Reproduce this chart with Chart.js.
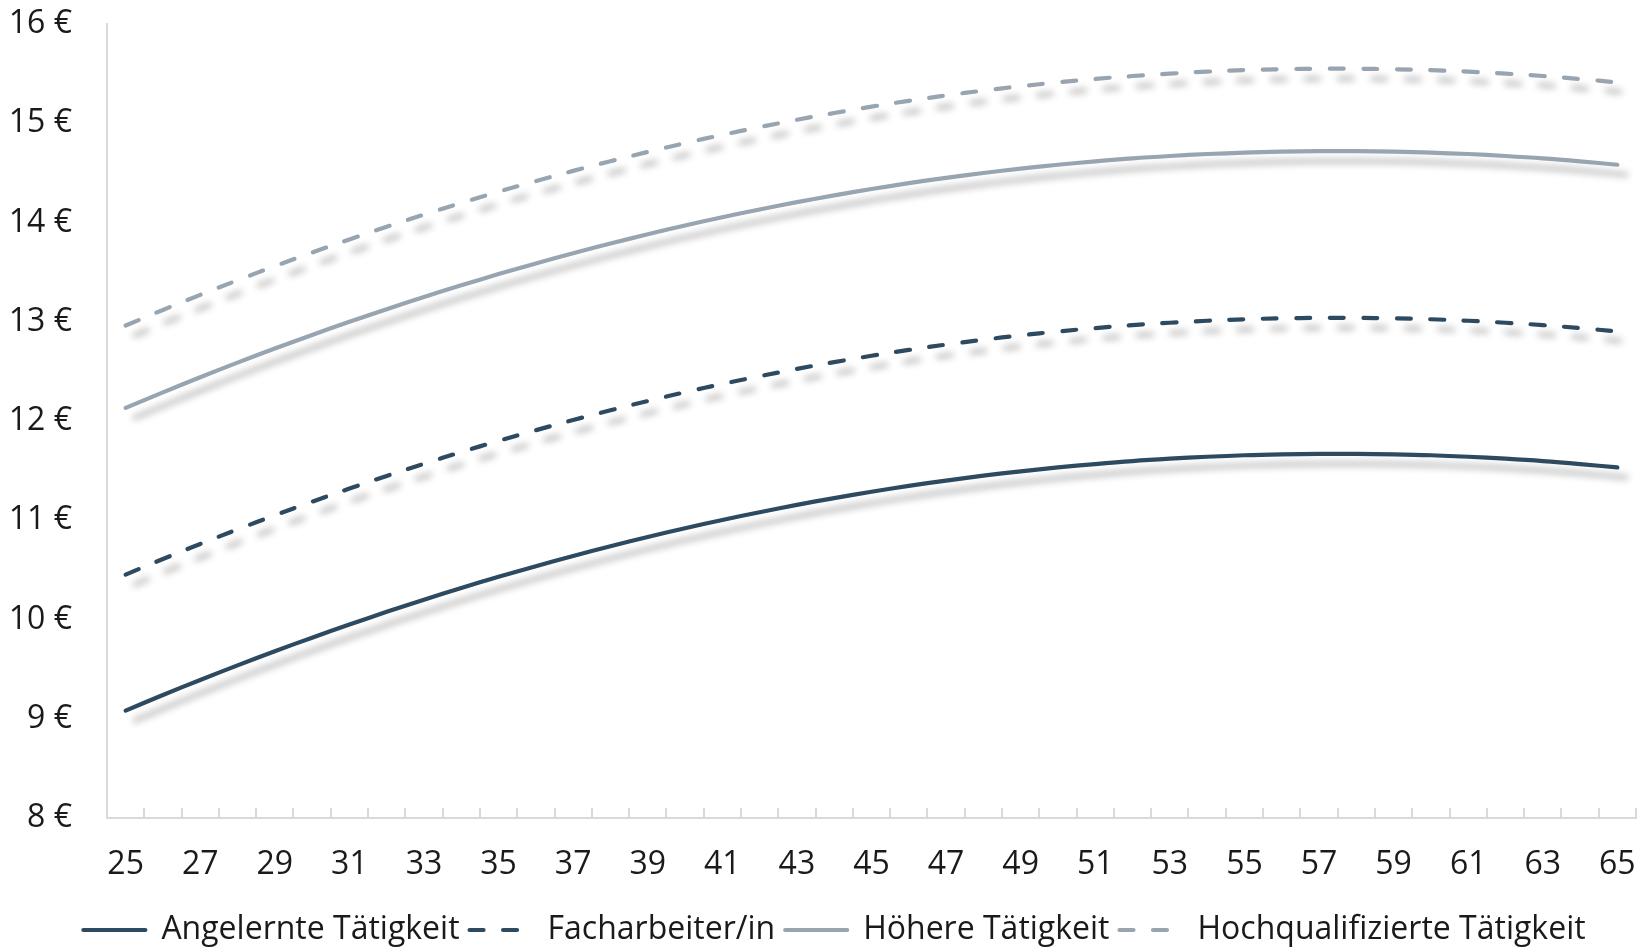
<!DOCTYPE html>
<html>
<head>
<meta charset="utf-8">
<script src="https://cdn.jsdelivr.net/npm/chart.js@4/dist/chart.umd.min.js"></script>
<style>
  html, body { margin: 0; padding: 0; background: #ffffff; overflow: hidden; }
  #wrap { width: 1651px; height: 951px; position: relative; }
</style>
</head>
<body>
<div id="wrap"><canvas id="c" width="1651" height="951"></canvas></div>
<script>
const ages = [25,26,27,28,29,30,31,32,33,34,35,36,37,38,39,40,41,42,43,44,45,46,47,48,49,50,51,52,53,54,55,56,57,58,59,60,61,62,63,64,65];

const angelernte = [9.082, 9.239, 9.391, 9.538, 9.680, 9.817, 9.949, 10.077, 10.199, 10.317, 10.430, 10.537, 10.640, 10.738, 10.831, 10.920, 11.003, 11.081, 11.155, 11.223, 11.287, 11.346, 11.400, 11.449, 11.493, 11.532, 11.566, 11.596, 11.620, 11.640, 11.655, 11.664, 11.669, 11.669, 11.664, 11.655, 11.640, 11.620, 11.596, 11.566, 11.532];

const facharbeiter = [10.452, 10.609, 10.761, 10.908, 11.050, 11.187, 11.319, 11.447, 11.569, 11.687, 11.800, 11.907, 12.010, 12.108, 12.201, 12.290, 12.373, 12.451, 12.525, 12.593, 12.657, 12.716, 12.770, 12.819, 12.863, 12.902, 12.936, 12.966, 12.990, 13.010, 13.025, 13.034, 13.039, 13.039, 13.034, 13.025, 13.010, 12.990, 12.966, 12.936, 12.902];

const hoehere = [12.132, 12.289, 12.441, 12.588, 12.730, 12.867, 12.999, 13.127, 13.249, 13.367, 13.480, 13.587, 13.690, 13.788, 13.881, 13.970, 14.053, 14.131, 14.205, 14.273, 14.337, 14.396, 14.450, 14.499, 14.543, 14.582, 14.616, 14.646, 14.670, 14.690, 14.705, 14.714, 14.719, 14.719, 14.714, 14.705, 14.690, 14.670, 14.646, 14.616, 14.582];

const hochqualifiziert = [12.962, 13.119, 13.271, 13.418, 13.560, 13.697, 13.829, 13.957, 14.079, 14.197, 14.310, 14.417, 14.520, 14.618, 14.711, 14.800, 14.883, 14.961, 15.035, 15.103, 15.167, 15.226, 15.280, 15.329, 15.373, 15.412, 15.446, 15.476, 15.500, 15.520, 15.535, 15.544, 15.549, 15.549, 15.544, 15.535, 15.520, 15.500, 15.476, 15.446, 15.412];

const seriesNames = ['Angelernte Tätigkeit', 'Facharbeiter/in', 'Höhere Tätigkeit', 'Hochqualifizierte Tätigkeit'];
const yMin = 8, yMax = 16, yStep = 1;

const DARK = '#2e4a60';
const LIGHT = '#98a5b0';
const DASH = [14, 19.5];
const FONT = '"Open Sans", sans-serif';

const shadowPlugin = {
  id: 'lineShadow',
  beforeDatasetDraw(chart) {
    const ctx = chart.ctx;
    ctx.save();
    ctx.shadowColor = 'rgba(0,0,0,0.30)';
    ctx.shadowBlur = 7;
    ctx.shadowOffsetX = 9;
    ctx.shadowOffsetY = 10;
  },
  afterDatasetDraw(chart) {
    chart.ctx.restore();
  }
};

function ds(label, data, color, dash) {
  return {
    label, data,
    borderColor: color,
    backgroundColor: color,
    borderWidth: 4.2,
    borderDash: dash,
    borderCapStyle: 'round',
    borderJoinStyle: 'round',
    pointRadius: 0,
    pointHoverRadius: 0,
    pointStyle: 'line',
    tension: 0.4,
    fill: false
  };
}

new Chart(document.getElementById('c'), {
  type: 'line',
  data: {
    labels: ages.map(String),
    datasets: [
      ds(seriesNames[0], angelernte, DARK, []),
      ds(seriesNames[1], facharbeiter, DARK, DASH),
      ds(seriesNames[2], hoehere, LIGHT, []),
      ds(seriesNames[3], hochqualifiziert, LIGHT, DASH)
    ]
  },
  options: {
    responsive: false,
    animation: false,
    devicePixelRatio: 1,
    layout: { padding: { left: 33, right: 15, top: 24, bottom: -5 } },
    plugins: {
      tooltip: { enabled: false },
      legend: {
        position: 'bottom',
        align: 'center',
        labels: {
          usePointStyle: true,
          pointStyleWidth: 62,
          boxHeight: 4,
          padding: 10,
          color: '#1a1a1a',
          font: { family: FONT, size: 32 },
          generateLabels(chart) {
            const items = Chart.defaults.plugins.legend.labels.generateLabels(chart);
            items.forEach((it, i) => {
              const d = chart.data.datasets[i];
              it.lineDash = d.borderDash;
              it.lineWidth = d.borderWidth;
              it.strokeStyle = d.borderColor;
              it.fillStyle = d.borderColor;
              it.lineCap = 'round';
              it.pointStyle = 'line';
            });
            return items;
          }
        }
      }
    },
    scales: {
      x: {
        type: 'category',
        offset: true,
        afterFit(scale) { scale.height = 86; scale.paddingLeft = 0; scale.paddingRight = 0; },
        grid: {
          offset: true,
          drawOnChartArea: false,
          drawTicks: true,
          tickLength: -10,
          color: '#d9d9d9',
          lineWidth: 2
        },
        border: { display: true, color: '#d9d9d9', width: 2 },
        ticks: {
          autoSkip: false,
          maxRotation: 0,
          padding: 38,
          color: '#1a1a1a',
          font: { family: FONT, size: 32 },
          callback: function(val, index) { return index % 2 === 0 ? this.getLabelForValue(val) : ''; }
        }
      },
      y: {
        min: yMin, max: yMax,
        grid: { display: false, drawTicks: false },
        border: { display: true, color: '#d9d9d9', width: 2 },
        afterFit(scale) {
          scale.width = 74; scale.paddingTop = 0; scale.paddingBottom = 0;
          scale._computeLabelArea = function() { return undefined; };
        },
        ticks: {
          stepSize: yStep,
          padding: 35,
          color: '#1a1a1a',
          font: { family: FONT, size: 32 },
          callback: v => v + ' €'
        }
      }
    }
  },
  plugins: [shadowPlugin]
});
</script>
</body>
</html>
